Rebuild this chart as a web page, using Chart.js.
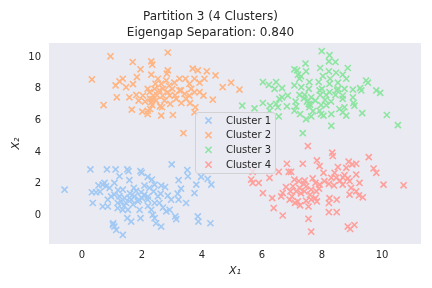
<!DOCTYPE html>
<html>
<head>
<meta charset="utf-8">
<script src="https://cdn.jsdelivr.net/npm/chart.js@4.4.0/dist/chart.umd.min.js"></script>
<style>
  html, body { margin: 0; padding: 0; background: #ffffff; }
  #wrap { width: 432px; height: 288px; }
</style>
</head>
<body>
<div id="wrap"><canvas id="clusterChart" width="432" height="288"></canvas></div>
<script>
// Points, one pair of arrays per cluster
const clusterNames = ['Cluster 1', 'Cluster 2', 'Cluster 3', 'Cluster 4'];

const c1X = [2.99,0.28,0.83,1.12,1.51,1.55,1.95,1.99,3.51,3.53,
  3.22,2.19,2.33,1.58,1.25,-0.58,0.69,0.80,0.75,0.92,
  1.08,0.33,0.47,1.36,1.73,2.08,2.25,2.42,2.64,2.77,
  2.39,2.62,2.86,3.19,3.22,2.97,3.47,3.81,3.75,3.97,
  4.19,4.31,1.97,2.08,1.75,1.58,1.42,1.25,1.08,0.97,
  0.86,0.69,0.36,0.86,1.19,1.31,1.47,1.64,1.86,2.19,
  2.42,2.58,1.19,1.36,1.53,1.92,2.31,2.36,2.42,2.81,
  2.92,3.11,3.14,3.86,3.88,4.28,1.51,1.64,1.95,1.04,
  1.08,1.14,1.36,1.03,2.47,2.64,2.53,1.6,1.8,2.0,
  1.4,2.2,1.7,1.2,0.55,0.6,2.7,2.2,1.9,3.3];
const c1Y = [3.23,2.91,2.91,2.91,2.91,2.80,2.80,2.70,2.87,2.48,
  2.23,2.44,2.27,2.23,2.48,1.63,1.95,1.85,2.06,1.74,
  2.06,1.47,1.47,1.63,1.74,1.89,1.74,1.95,1.89,1.80,
  1.53,1.38,1.25,1.38,1.00,1.00,0.79,1.95,1.42,2.44,
  2.31,1.95,1.47,1.32,1.21,1.11,1.11,1.21,1.32,1.21,
  1.00,0.57,0.79,0.57,0.79,0.89,0.79,1.00,0.89,1.00,
  0.79,0.79,0.47,0.36,0.36,0.36,0.36,0.04,-0.17,0.26,
  0.36,-0.06,-0.23,-0.06,-0.38,-0.49,-0.17,-0.38,-0.17,-0.49,
  -0.70,-0.91,-1.23,-0.59,-0.49,-0.70,1.21,1.4,1.55,1.1,
  0.6,1.2,0.7,1.6,1.9,1.5,0.5,0.6,1.0,1.7];

const c2X = [0.95,2.86,1.69,2.31,2.34,1.95,2.86,2.83,3.69,3.86,
  4.16,4.45,0.33,1.83,2.31,2.53,1.36,1.25,1.12,1.47,
  1.16,0.72,1.58,1.81,2.03,1.89,1.66,2.01,2.19,2.27,
  2.31,2.38,2.42,2.45,2.64,2.58,2.69,2.75,2.67,2.64,
  3.03,2.94,2.92,3.01,3.08,3.25,3.45,3.58,3.75,3.92,
  4.08,4.69,4.97,5.25,4.05,4.36,3.75,3.58,3.42,3.31,
  3.25,3.78,3.75,3.38,2.19,2.27,2.47,2.86,3.14,3.47,
  3.64,3.92,2.19,2.81,2.25,2.34,2.5,2.7,3.1,2.35,
  2.9,3.3,1.7,2.1,3.6,2.6];
const c2Y = [10.06,10.30,9.70,9.74,9.53,9.24,9.17,8.96,9.28,9.17,
  9.11,8.85,8.60,8.75,8.90,8.64,8.64,8.47,8.22,8.11,
  7.47,6.98,7.47,7.62,7.58,7.26,6.69,6.56,6.62,6.73,
  7.15,7.58,8.00,8.32,8.32,7.90,7.58,7.26,6.84,6.31,
  6.35,7.05,7.58,8.00,8.39,8.64,8.64,8.32,8.64,8.39,
  8.64,8.11,8.39,7.96,7.58,7.32,7.79,7.58,7.69,7.11,
  7.90,6.84,6.52,5.20,6.41,7.37,7.26,7.79,7.37,7.37,
  8.00,7.79,8.00,8.53,7.79,6.98,7.6,8.0,7.6,7.35,
  8.2,7.9,8.3,7.2,7.1,6.9];

const c3X = [7.99,8.25,8.23,8.45,7.45,7.08,7.17,7.47,7.94,8.23,
  8.86,8.47,8.69,8.81,8.03,8.27,7.25,7.58,7.89,8.25,
  8.53,9.47,9.53,6.03,6.23,6.47,6.42,6.67,7.08,7.31,
  7.56,7.92,8.25,8.53,8.75,9.03,9.27,9.81,9.94,9.31,
  6.67,6.86,7.25,7.42,7.64,7.94,8.14,8.45,8.69,9.03,
  6.58,6.03,6.27,6.47,6.83,7.12,7.53,7.56,7.78,7.97,
  8.14,8.69,9.05,9.08,5.34,5.75,6.25,6.53,7.14,7.58,
  7.92,8.58,8.75,7.08,6.56,7.27,7.47,7.64,7.97,8.05,
  8.31,8.69,8.81,9.34,10.16,10.53,8.31,7.36,7.5,7.6,
  7.4,8.1,7.2,7.3,8.0,8.3,7.7,8.5];
const c3Y = [10.38,10.13,9.74,9.70,9.60,9.24,9.17,9.11,9.32,9.11,
  9.32,9.02,8.90,8.64,8.81,8.64,8.64,8.43,8.43,8.32,
  8.39,8.53,8.39,8.43,8.26,8.43,8.00,8.05,8.22,8.11,
  8.00,7.90,7.79,8.00,8.00,7.96,8.05,7.90,7.75,7.90,
  7.47,7.58,7.62,7.62,7.47,7.62,7.62,7.62,7.58,7.47,
  7.37,7.11,6.94,7.05,6.90,7.20,7.26,7.05,7.26,6.98,
  6.98,7.37,7.11,6.94,6.94,6.77,6.62,6.84,6.90,6.84,
  6.62,6.73,6.84,6.62,6.26,6.41,6.09,6.26,6.41,6.31,
  6.41,6.52,6.31,6.47,6.35,5.71,5.67,5.20,7.2,7.0,
  7.4,7.3,8.9,8.8,8.0,7.2,6.6,7.9];

const c4X = [7.53,8.34,8.36,9.56,6.83,7.36,7.83,7.92,8.53,8.89,
  9.01,9.14,8.81,6.56,6.89,6.97,5.69,9.72,9.81,8.05,
  8.42,8.75,9.14,8.31,8.47,8.86,9.25,10.05,10.72,5.69,
  5.89,5.64,6.25,7.08,7.23,7.42,7.69,7.78,7.92,8.08,
  8.23,8.69,8.92,8.97,9.14,7.03,7.25,7.47,7.64,7.81,
  7.42,7.14,6.95,6.03,6.69,6.34,6.64,6.92,7.19,7.47,
  7.64,7.78,7.83,8.25,8.49,8.23,7.27,7.55,8.92,9.23,
  9.36,6.39,6.69,7.55,8.23,8.49,7.64,8.86,8.94,9.08,
  7.3,7.6,7.0,8.6,8.4,7.4,7.9,7.1,6.8,8.7];
const c4Y = [4.39,3.97,3.76,3.69,3.27,3.27,3.48,3.12,3.06,3.40,
  3.23,3.27,3.01,2.76,2.76,2.76,2.76,2.97,2.70,2.70,
  2.70,2.55,2.59,2.38,2.38,2.34,2.06,1.95,1.91,2.06,
  2.06,2.27,2.38,2.27,2.17,2.21,2.34,2.06,1.95,2.17,
  2.00,1.95,2.17,1.74,1.53,1.85,1.74,1.85,1.64,1.53,
  1.53,1.53,1.53,1.42,1.42,1.10,1.21,1.00,0.89,0.93,
  1.00,1.10,0.89,1.10,1.00,0.79,0.64,0.57,1.32,1.27,
  1.15,0.47,0.00,-0.21,0.21,0.21,-1.02,-0.70,-0.85,-0.60,
  1.4,1.3,1.2,2.2,1.9,2.0,1.7,0.8,1.8,2.4];

const xTicks = [0, 2, 4, 6, 8, 10];
const yTicks = [0, 2, 4, 6, 8, 10];

const clusterX = [c1X, c2X, c3X, c4X];
const clusterY = [c1Y, c2Y, c3Y, c4Y];
// seaborn pastel
const colors = ['#a1c9f4', '#ffb482', '#8de5a1', '#ff9f9b'];

const FONT = "'DejaVu Sans', sans-serif";
const TEXT = '#262626';

const datasets = clusterNames.map((name, i) => ({
    label: name,
    data: clusterX[i].map((x, j) => ({ x: x, y: clusterY[i][j] })),
    pointStyle: 'crossRot',
    pointRadius: 4.3,
    pointBorderWidth: 1.6,
    borderColor: colors[i],
    backgroundColor: colors[i]
}));

// grey plot background like seaborn "dark"
const plotBg = {
    id: 'plotBg',
    beforeDraw(chart) {
        const { ctx, chartArea: a } = chart;
        ctx.save();
        ctx.fillStyle = '#eaeaf2';
        ctx.fillRect(a.left, a.top, a.right - a.left, a.bottom - a.top);
        ctx.restore();
    }
};

// legend box sitting inside the axes, drawn over the points
const innerLegend = {
    id: 'innerLegend',
    afterDatasetsDraw(chart) {
        const ctx = chart.ctx;
        const bx = 195, by = 112, bw = 80, bh = 61;
        ctx.save();
        ctx.beginPath();
        ctx.roundRect(bx + 0.5, by + 0.5, bw, bh, 3);
        ctx.fillStyle = 'rgba(234,234,242,0.8)';
        ctx.fill();
        ctx.strokeStyle = 'rgba(204,204,204,0.8)';
        ctx.lineWidth = 1;
        ctx.stroke();
        ctx.font = '10px ' + FONT;
        ctx.textBaseline = 'middle';
        chart.data.datasets.forEach((ds, i) => {
            const cy = by + 8.5 + i * 14.7;
            const cx = 208.5;
            const r = 3.1;
            ctx.strokeStyle = ds.borderColor;
            ctx.lineWidth = 1.6;
            ctx.beginPath();
            ctx.moveTo(cx - r, cy - r); ctx.lineTo(cx + r, cy + r);
            ctx.moveTo(cx - r, cy + r); ctx.lineTo(cx + r, cy - r);
            ctx.stroke();
            ctx.fillStyle = TEXT;
            ctx.fillText(ds.label, 226, cy + 0.5);
        });
        ctx.restore();
    }
};

new Chart(document.getElementById('clusterChart').getContext('2d'), {
    type: 'scatter',
    data: { datasets: datasets },
    plugins: [plotBg, innerLegend],
    options: {
        responsive: false,
        animation: false,
        events: [],
        layout: { padding: { left: 0, right: 11, top: 0, bottom: 0 } },
        scales: {
            x: {
                type: 'linear',
                min: -1.1,
                max: 11.3,
                afterBuildTicks: (axis) => { axis.ticks = xTicks.map(v => ({ value: v })); },
                afterFit: (axis) => { axis.height = 44; },
                grid: { display: false, drawTicks: false },
                border: { display: false },
                ticks: { color: TEXT, font: { family: FONT, size: 10 }, padding: 5, maxRotation: 0 },
                title: {
                    display: true,
                    text: 'X\u2081',
                    color: TEXT,
                    font: { family: FONT, size: 11, style: 'italic' },
                    padding: { top: 0, bottom: 10 }
                }
            },
            y: {
                type: 'linear',
                min: -1.8,
                max: 10.9,
                afterBuildTicks: (axis) => { axis.ticks = yTicks.map(v => ({ value: v })); },
                afterFit: (axis) => { axis.width = 49; },
                grid: { display: false, drawTicks: false },
                border: { display: false },
                ticks: { color: TEXT, font: { family: FONT, size: 10 }, padding: 8 },
                title: {
                    display: true,
                    text: 'X\u2082',
                    color: TEXT,
                    font: { family: FONT, size: 11, style: 'italic' },
                    padding: { top: 10, bottom: 0 }
                }
            }
        },
        plugins: {
            legend: { display: false },
            tooltip: { enabled: false },
            title: {
                display: true,
                text: ['Partition 3 (4 Clusters)', 'Eigengap Separation: 0.840'],
                color: TEXT,
                font: { family: FONT, size: 12, weight: 'normal', lineHeight: 1.35 },
                padding: { top: 9, bottom: 1.6 }
            }
        }
    }
});
</script>
</body>
</html>
